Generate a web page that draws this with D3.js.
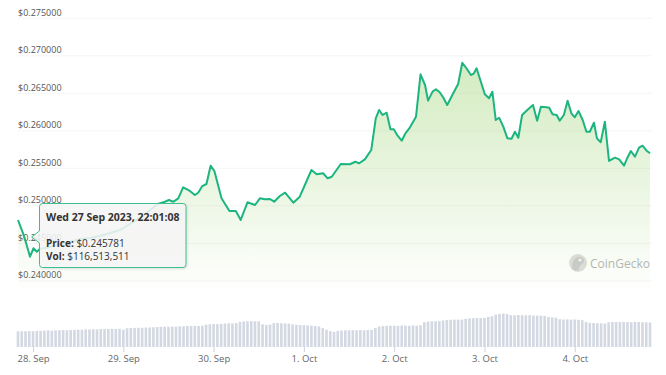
<!DOCTYPE html>
<html>
<head>
<meta charset="utf-8">
<script src="https://cdn.jsdelivr.net/npm/d3@7"></script>
<style>
  html, body { margin: 0; padding: 0; background: #fff; }
  svg { display: block; font-family: "Open Sans", sans-serif; }
</style>
</head>
<body>
<svg id="chart" width="666" height="375"></svg>
<script>
var svg = d3.select("#chart");

// Data -----------------------------------------
var startTime = new Date(2023, 8, 27, 20, 0);
var endTime = new Date(2023, 9, 4, 20, 0);

// hours after 27 Sep 20:00
var priceHours = [0.0, 1.6, 3.2, 4.1, 5.0, 5.8, 8.5, 11.2, 13.8, 16.5, 19.1, 21.8, 24.4, 27.1, 29.8,
  32.4, 35.1, 37.2, 39.1, 40.1, 41.3, 42.6, 43.9, 45.7, 47.0, 47.9, 49.0, 50.1, 51.2, 52.2, 54.1,
  56.2, 57.9, 59.2, 61.0, 63.0, 64.3, 65.6, 67.0, 68.1, 69.6, 71.0, 73.2, 74.9, 78.0, 79.4, 81.1,
  82.3, 83.4, 85.8, 88.2, 89.7, 90.7, 92.2, 93.9, 95.1, 96.0, 96.9, 98.0, 99.0, 99.9, 100.8, 102.0,
  103.0, 104.2, 105.8, 107.0, 108.2, 109.0, 110.2, 111.1, 112.1, 113.0, 114.1, 115.7, 117.0, 118.1,
  119.2, 120.4, 121.2, 121.9, 124.1, 125.2, 126.1, 127.0, 127.9, 129.0, 130.1, 131.2, 132.1, 133.0,
  134.0, 135.6, 136.9, 138.0, 139.0, 140.5, 141.2, 142.1, 143.2, 144.0, 145.1, 146.1, 147.1, 148.0,
  149.0, 150.1, 151.1, 152.0, 153.1, 153.9, 154.9, 156.0, 157.1, 158.7, 159.8, 161.1, 162.0, 162.9,
  164.0, 165.1, 166.0, 167.1, 168.0];

var priceValues = [0.24804, 0.24591, 0.24315, 0.24427, 0.24381, 0.24417, 0.24444, 0.24484, 0.24511,
  0.24551, 0.24564, 0.24591, 0.24631, 0.24671, 0.24751, 0.24831, 0.24937, 0.25017, 0.25048, 0.25071,
  0.25048, 0.25093, 0.25240, 0.25191, 0.25137, 0.25168, 0.25257, 0.25284, 0.25528, 0.25457, 0.25093,
  0.24924, 0.24924, 0.24804, 0.25040, 0.25004, 0.25093, 0.25080, 0.25084, 0.25048, 0.25124, 0.25168,
  0.25035, 0.25115, 0.25471, 0.25413, 0.25427, 0.25360, 0.25381, 0.25551, 0.25547, 0.25581, 0.25560,
  0.25613, 0.25737, 0.26160, 0.26271, 0.26204, 0.26235, 0.26013, 0.26013, 0.25937, 0.25861, 0.25960,
  0.26040, 0.26181, 0.26747, 0.26604, 0.26395, 0.26515, 0.26547, 0.26507, 0.26440, 0.26337, 0.26493,
  0.26617, 0.26901, 0.26827, 0.26737, 0.26760, 0.26827, 0.26480, 0.26427, 0.26515, 0.26137, 0.26168,
  0.26048, 0.25893, 0.25888, 0.25981, 0.25901, 0.26204, 0.26280, 0.26337, 0.26128, 0.26315, 0.26307,
  0.26301, 0.26213, 0.26204, 0.26128, 0.26204, 0.26395, 0.26227, 0.26173, 0.26257, 0.26137, 0.25981,
  0.25981, 0.26101, 0.25893, 0.25840, 0.26115, 0.25591, 0.25635, 0.25613, 0.25528, 0.25635, 0.25724,
  0.25648, 0.25768, 0.25795, 0.25728, 0.25693];

// hourly 24h volume, millions of USD, from 27 Sep 20:00
var volumeValues = [116, 117, 117, 118, 117, 119, 120,
  121, 123, 122, 124, 124, 125, 124, 126,
  127, 129, 128, 131, 130, 132, 131,
  133, 134, 133, 135, 134, 135,
  128,
  139, 141, 142, 143, 142, 144, 145,
  147, 148, 149, 151, 150, 152, 151, 153,
  154, 156, 155, 157, 156, 158,
  166, 169, 171, 170, 172,
  174, 176, 175, 177,
  186, 189, 191, 192, 191, 190,
  168, 164, 166,
  177, 178, 176, 175, 174,
  168, 165, 163, 162, 160, 158, 156, 152,
  140, 128, 118, 112,
  120, 123, 124, 124, 125, 124, 125, 124, 126, 127,
  140,
  152, 155, 157, 158, 158, 157, 159, 158, 157, 160, 158,
  162,
  184, 188, 190, 191, 192,
  196, 200, 202, 203, 204, 203,
  209, 212, 214, 215, 214, 216,
  224, 228,
  240, 246, 248, 245,
  236, 235, 237, 236, 235, 236, 234, 233, 232, 230,
  222, 220, 218,
  206, 204, 205, 203, 204, 202, 199,
  185, 180, 178, 176, 175, 174,
  184, 185, 186, 185, 186, 185, 184, 186, 185, 184, 183, 182];

var priceTicks = [0.24, 0.245, 0.25, 0.255, 0.26, 0.265, 0.27, 0.275];

var tooltipTitle = "Wed 27 Sep 2023, 22:01:08";
var tooltipTime = new Date(2023, 8, 27, 22, 1, 8);
var tooltipPrice = 0.245781;
var tooltipVol = "$116,513,511";

var hour = 3600 * 1000;
var prices = priceHours.map(function(h, i) {
  return { t: new Date(startTime.getTime() + h * hour), p: priceValues[i] };
});
var volumes = volumeValues.map(function(v, i) {
  return { t: new Date(startTime.getTime() + i * hour), v: v };
});

// Scales ---------------------------------------
var x = d3.scaleTime()
    .domain([startTime, endTime])
    .range([18, 650]);

var y = d3.scaleLinear()
    .domain([0.24, 0.275])
    .range([280.3, 17.8]);

var yVol = d3.scaleLinear()
    .domain([0, 250])
    .range([347, 313.3]);

var green = "#1cb57f";

// Gradient -------------------------------------
var defs = svg.append("defs");
var grad = defs.append("linearGradient")
    .attr("id", "areaFill")
    .attr("gradientUnits", "userSpaceOnUse")
    .attr("x1", 0).attr("y1", 60)
    .attr("x2", 0).attr("y2", 295);
grad.append("stop").attr("offset", 0).attr("stop-color", "#8ccb5a").attr("stop-opacity", 0.38);
grad.append("stop").attr("offset", 1).attr("stop-color", "#8ccb5a").attr("stop-opacity", 0);

var shadow = defs.append("filter").attr("id", "tipShadow")
    .attr("x", "-10%").attr("y", "-10%").attr("width", "130%").attr("height", "140%");
shadow.append("feDropShadow")
    .attr("dx", 1).attr("dy", 1).attr("stdDeviation", 1.2)
    .attr("flood-color", "#000").attr("flood-opacity", 0.12);

// Y axis / grid --------------------------------
var yAxis = svg.append("g")
    .attr("transform", "translate(18,0)")
    .call(d3.axisRight(y).tickValues(priceTicks).tickSize(634).tickFormat(function(d) {
      return "$" + d.toFixed(6);
    }));
yAxis.select(".domain").remove();
yAxis.selectAll(".tick line").attr("stroke", "#f5f5f5");
yAxis.selectAll(".tick text")
    .attr("x", 0)
    .attr("dy", -2.5)
    .attr("fill", "#555")
    .style("font-size", "9px")
    .style("font-family", "'Open Sans', sans-serif");

// Watermark ------------------------------------
var wm = svg.append("g").attr("transform", "translate(578,263)");
wm.append("circle").attr("r", 9).attr("fill", "#dedede");
wm.append("path")
    .attr("d", "M-6,5 C-6,-3 -2,-7 3,-6 C6,-5 7,-2 5,0 C3,2 1,3 1,7 L-3,8 Z")
    .attr("fill", "#cbcbcb");
wm.append("circle").attr("cx", 2).attr("cy", -3).attr("r", 1.6).attr("fill", "#f4f4f4");
wm.append("text")
    .attr("x", 12).attr("y", 4.5)
    .attr("fill", "#b5b5b5")
    .style("font-size", "12px")
    .text("CoinGecko");

// Volume ---------------------------------------
svg.append("g").selectAll("rect")
    .data(volumes)
    .enter()
    .append("rect")
    .attr("x", function(d) { return x(d.t) - 1.3 })
    .attr("y", function(d) { return yVol(d.v) })
    .attr("width", 2.6)
    .attr("height", function(d) { return yVol(0) - yVol(d.v) })
    .attr("fill", "#d3d8e2");

// X axis ---------------------------------------
var xAxis = svg.append("g")
    .attr("transform", "translate(0,347)")
    .call(d3.axisBottom(x)
      .ticks(d3.timeDay.every(1))
      .tickSize(5)
      .tickPadding(3)
      .tickFormat(d3.timeFormat("%-d. %b")));
xAxis.select(".domain").remove();
xAxis.selectAll(".tick line").attr("stroke", "#ccd3df");
xAxis.selectAll(".tick text")
    .attr("fill", "#666")
    .style("font-size", "9.5px")
    .style("font-family", "'Open Sans', sans-serif");

// Price area + line ----------------------------
var area = d3.area()
    .x(function(d) { return x(d.t) })
    .y0(300)
    .y1(function(d) { return y(d.p) });

var line = d3.line()
    .x(function(d) { return x(d.t) })
    .y(function(d) { return y(d.p) });

svg.append("path")
    .datum(prices)
    .attr("d", area)
    .attr("fill", "url(#areaFill)");

svg.append("path")
    .datum(prices)
    .attr("d", line)
    .attr("fill", "none")
    .attr("stroke", green)
    .attr("stroke-width", 2)
    .attr("stroke-linejoin", "round");

// Tooltip --------------------------------------
var px = x(tooltipTime), py = y(tooltipPrice);
var bx = 39.5, by = 203.5, bw = 146.5, bh = 64, r = 3;
var tipPath = "M" + (bx + r) + "," + by +
  " L" + (bx + bw - r) + "," + by +
  " Q" + (bx + bw) + "," + by + " " + (bx + bw) + "," + (by + r) +
  " L" + (bx + bw) + "," + (by + bh - r) +
  " Q" + (bx + bw) + "," + (by + bh) + " " + (bx + bw - r) + "," + (by + bh) +
  " L" + (bx + r) + "," + (by + bh) +
  " Q" + bx + "," + (by + bh) + " " + bx + "," + (by + bh - r) +
  " L" + bx + "," + (py + 6) +
  " L" + (px + 6) + "," + py +
  " L" + bx + "," + (py - 6) +
  " L" + bx + "," + (by + r) +
  " Q" + bx + "," + by + " " + (bx + r) + "," + by + " Z";

var tip = svg.append("g");
tip.append("path")
    .attr("d", tipPath)
    .attr("fill", "rgba(247,247,247,0.86)")
    .attr("stroke", "#3cc08f")
    .attr("stroke-width", 1)
    .attr("filter", "url(#tipShadow)");

tip.append("text")
    .attr("x", 46).attr("y", 220.5)
    .attr("fill", "#333")
    .style("font-size", "10.5px")
    .style("font-weight", "bold")
    .text(tooltipTitle);

var t1 = tip.append("text").attr("x", 46).attr("y", 246.5).attr("fill", "#333").style("font-size", "10px");
t1.append("tspan").style("font-weight", "bold").text("Price:");
t1.append("tspan").text(" $" + tooltipPrice.toFixed(6));

var t2 = tip.append("text").attr("x", 46).attr("y", 259.5).attr("fill", "#333").style("font-size", "10px");
t2.append("tspan").style("font-weight", "bold").text("Vol:");
t2.append("tspan").text(" " + tooltipVol);
</script>
</body>
</html>
